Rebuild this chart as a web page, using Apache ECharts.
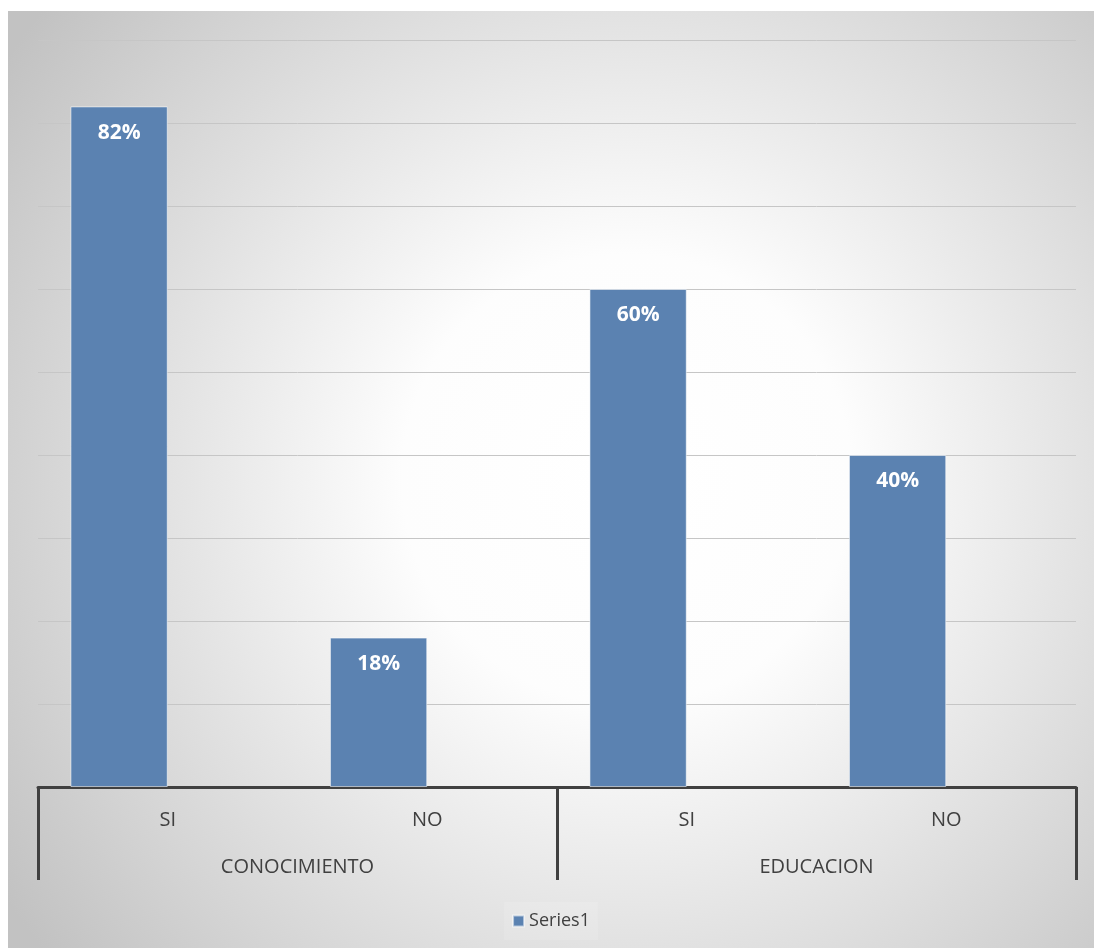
<!DOCTYPE html>
<html>
<head>
<meta charset="utf-8">
<script src="https://cdn.jsdelivr.net/npm/echarts@6/dist/echarts.min.js"></script>
<style>
  html, body { margin: 0; padding: 0; background: #ffffff; }
  #chart { position: absolute; left: 8px; top: 11px; width: 1086px; height: 937px; }
</style>
</head>
<body>
<div id="chart"></div>
<script>
const categories = ['SI', 'NO', 'SI', 'NO']
const groups = ['CONOCIMIENTO', 'EDUCACION']
const series1 = [0.82, 0.18, 0.60, 0.40]
// Excel kept an empty second series, which pushes the bars to the left half
const series2 = [null, null, null, null]

const chart = echarts.init(document.getElementById('chart'), null, { renderer: 'canvas' })

const option = {
  backgroundColor: {
    type: 'radial', x: 0.57, y: 0.5, r: 0.8,
    colorStops: [
      { offset: 0, color: '#ffffff' },
      { offset: 0.3, color: '#fdfdfd' },
      { offset: 1, color: '#c2c2c2' },
    ],
  },
  animation: false,
  textStyle: { fontFamily: 'Open Sans' },
  legend: {
    data: ['Series1'],
    bottom: 8,
    left: 'center',
    icon: 'rect',
    itemWidth: 11,
    itemHeight: 11,
    itemGap: 6,
    padding: [10, 8],
    backgroundColor: 'rgba(255,255,255,0.12)',
    textStyle: { color: '#404040', fontSize: 18, fontFamily: 'Open Sans' },
  },
  grid: { left: 30, right: 18, top: 29, bottom: 161 },
  xAxis: [
    {
      type: 'category',
      data: categories,
      axisLine: { lineStyle: { color: '#404040', width: 3 } },
      axisTick: { show: false },
      axisLabel: { color: '#404040', fontSize: 20, margin: 23 },
    },
    {
      type: 'category',
      data: groups,
      position: 'bottom',
      offset: 0,
      axisLine: { show: false },
      axisTick: { show: true, length: 93, interval: 0, lineStyle: { color: '#404040', width: 3 } },
      axisLabel: { color: '#404040', fontSize: 20, margin: 70 },
    },
  ],
  yAxis: {
    type: 'value',
    min: 0,
    max: 0.9,
    interval: 0.1,
    axisLabel: { show: false },
    axisLine: { show: false },
    axisTick: { show: false },
    splitLine: { lineStyle: { color: '#c6c6c6', width: 1 } },
  },
  series: [
    {
      name: 'Series1',
      type: 'bar',
      data: series1,
      barGap: '0%',
      barCategoryGap: '25%',
      itemStyle: { color: '#5b82b1', borderColor: 'rgba(255,255,255,0.55)', borderWidth: 1 },
      label: {
        show: true,
        position: 'insideTop',
        distance: 16,
        color: '#ffffff',
        fontWeight: 'bold',
        fontSize: 21,
        formatter: p => Math.round(p.value * 100) + '%',
      },
    },
    {
      name: 'Series2',
      type: 'bar',
      data: series2,
      itemStyle: { color: '#c0504d' },
    },
  ],
}

chart.setOption(option)
window.addEventListener('resize', () => chart.resize())
</script>
</body>
</html>
